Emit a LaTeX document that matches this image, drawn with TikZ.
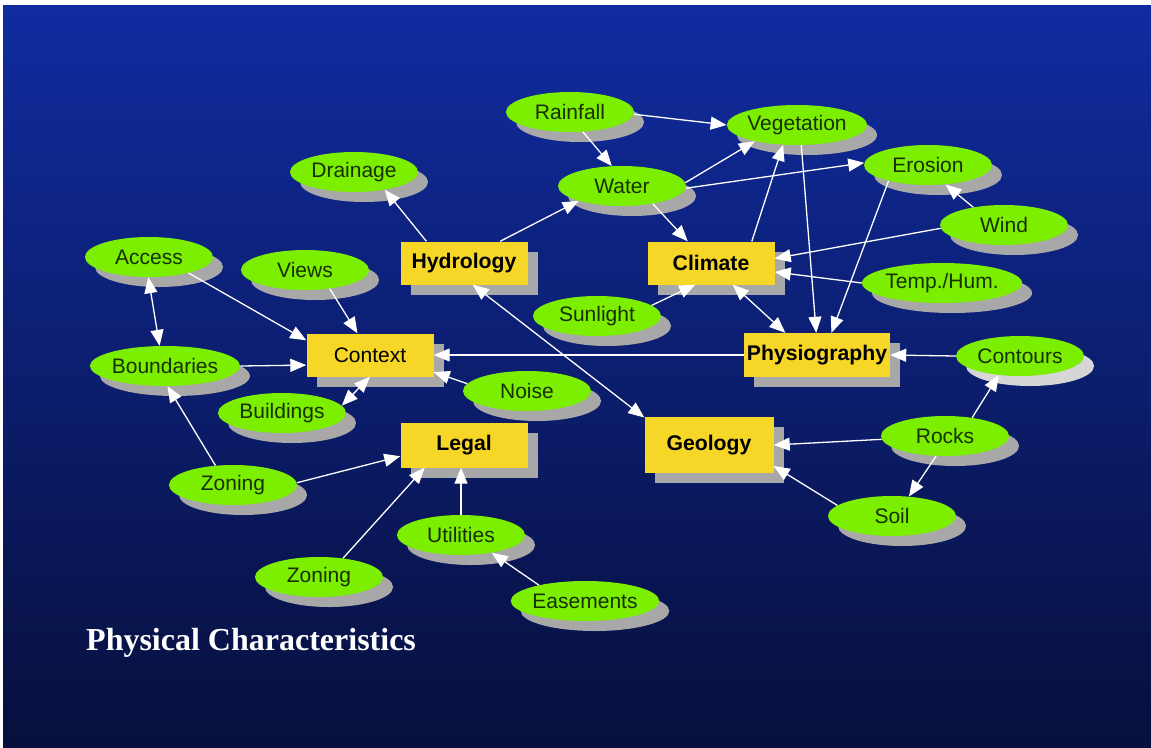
\documentclass[tikz,border=0pt]{standalone}
\usepackage{fontspec}
\setmainfont{Liberation Sans}
\newfontfamily\titlefont{Liberation Serif}
\usetikzlibrary{shapes.geometric,shadows,arrows.meta,calc}
\definecolor{bgtop}{RGB}{16,44,160}
\definecolor{bgmid}{RGB}{11,30,122}
\definecolor{bgbot}{RGB}{7,15,60}
\definecolor{lime}{RGB}{124,238,0}
\definecolor{ltext}{RGB}{22,48,0}
\definecolor{boxyellow}{RGB}{246,214,38}
\definecolor{shadowgray}{RGB}{168,168,168}
\definecolor{lightshadow}{RGB}{214,214,214}
\begin{document}
\begin{tikzpicture}[x=1pt,y=-1pt,
  ell/.style={ellipse, fill=lime, minimum width=128pt, minimum height=40pt,
    inner sep=0pt, text=ltext, font=\fontsize{21}{25}\selectfont,
    drop shadow={shadow xshift=10pt, shadow yshift=-10pt, fill=shadowgray, opacity=1}},
  lightell/.style={ellipse, fill=lime, minimum width=128pt, minimum height=40pt,
    inner sep=0pt, text=ltext, font=\fontsize{21}{25}\selectfont,
    drop shadow={shadow xshift=10pt, shadow yshift=-10pt, fill=lightshadow, opacity=1}},
  box/.style={rectangle, fill=boxyellow, minimum width=127pt, minimum height=43pt,
    inner sep=0pt, text=black, font=\bfseries\fontsize{21.2}{25}\selectfont,
    drop shadow={shadow xshift=10pt, shadow yshift=-10pt, fill=shadowgray, opacity=1}},
  arr/.style={draw=white, line width=1.3pt, -{Triangle[length=16pt,width=13pt]}},
  darr/.style={draw=white, line width=1.3pt, {Triangle[length=16pt,width=13pt]}-{Triangle[length=16pt,width=13pt]}},
]
\useasboundingbox (0,0) rectangle (1151,747);
\fill[white] (0,0) rectangle (1151,747);
\shade[top color=bgtop, middle color=bgmid, bottom color=bgbot] (3,5) rectangle (1151,747);

% ellipses
\node[ell] (rain) at (570,112) {Rainfall};
\node[ell] (veg) at (797,125) {Vegetation};
\node[ell] (water) at (622,186) {Water};
\node[ell] (drain) at (354,172) {Drainage};
\node[ell] (eros) at (928,165) {Erosion};
\node[ell] (wind) at (1004,225) {Wind};
\node[ell] (temp) at (942,283) {Temp./Hum.};
\node[lightell] (cont) at (1020,356) {Contours};
\node[ell] (rocks) at (945,436) {Rocks};
\node[ell] (soil) at (892,516) {Soil};
\node[ell] (sun) at (597,316) {Sunlight};
\node[ell] (noise) at (527,391) {Noise};
\node[ell] (access) at (149,257) {Access};
\node[ell] (views) at (305,270) {Views};
\node[ell] (bound) at (165,366) {Boundaries};
\node[ell] (build) at (282,413) {Buildings};
\node[ell] (zon1) at (233,485) {Zoning};
\node[ell] (zon2) at (319,577) {Zoning};
\node[ell] (util) at (461,535) {Utilities};
\node[ell] (ease) at (585,601) {Easements};

% boxes
\node[box] (hyd) at (464,263) {Hydrology};
\node[box] (clim) at (711,263) {Climate};
\node[box, font=\fontsize{21}{25}\selectfont] (ctx) at (370,355) {Context};
\node[box, minimum width=146pt, minimum height=44pt] (phys) at (817,355) {Physiography};
\node[box, minimum height=45pt] (legal) at (464,445) {Legal};
\node[box, minimum width=129pt, minimum height=56pt] (geo) at (709,445) {Geology};

% connectors
\draw[arr] (rain.-2) -- (veg.west);
\draw[arr] (rain.-57) -- (water.117);
\draw[arr] (water.3) -- (veg.201);
\draw[arr] (water.-2) -- (eros.178);
\draw[arr] (water.-30) -- (clim.137);
\draw[arr] (hyd.31) -- (water.199);
\draw[arr] (hyd.150) -- (drain.-30);
\draw[arr] (clim.28) -- (veg.235);
\draw[arr] (veg.-78) -- (phys.92);
\draw[arr] (eros.202) -- (phys.57);
\draw[arr] (wind.150) -- (eros.-48);
\draw[arr] (wind.183) -- (clim.4);
\draw[arr] (temp.west) -- (clim.-8);
\draw[arr] (sun.11) -- (clim.-126);
\draw[darr] (clim.-45) -- (phys.145);
\draw[arr] (phys.west) -- (ctx.east);
\draw[arr] (cont.west) -- (phys.east);
\draw[darr] (hyd.-68) -- (geo.157);
\draw[arr] (noise.173) -- (ctx.-15);
\draw[arr] (rocks.183) -- (geo.east);
\draw[arr] (rocks.34) -- (cont.222);
\draw[arr] (rocks.246) -- (soil.49);
\draw[arr] (soil.169) -- (geo.-18);
\draw[darr] (access.-92) -- (bound.105);
\draw[arr] (access.-22) -- (ctx.167);
\draw[arr] (views.-37) -- (ctx.120);
\draw[arr] (bound.east) -- (ctx.189);
\draw[darr] (ctx.south) -- (build.7);
\draw[arr] (zon1.132) -- (bound.-83);
\draw[arr] (zon1.2) -- (legal.190);
\draw[arr] (zon2.38) -- (legal.210);
\draw[arr] (util.north) -- (util.north |- legal.south);
\draw[arr] (ease.161) -- (util.-30);

% title
\node[anchor=base west, inner sep=0pt, text=white, font=\titlefont\bfseries\fontsize{32}{38}\selectfont] (title) at (86,650) {Physical Characteristics};
\end{tikzpicture}
\end{document}
